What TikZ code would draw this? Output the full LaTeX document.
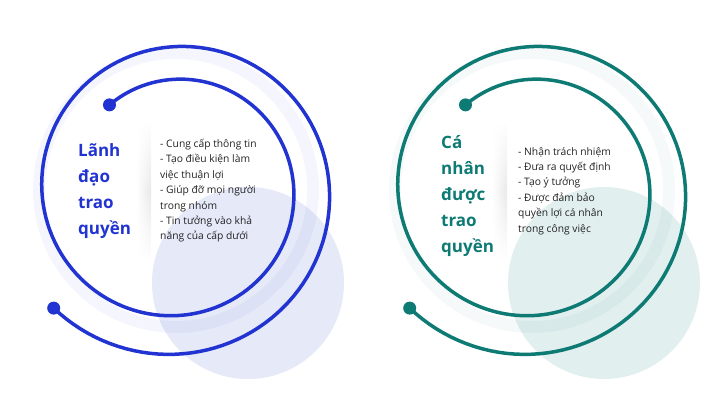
\documentclass[tikz,border=0pt]{standalone}
\usepackage{fontspec}
\setmainfont{Open Sans}
\usepackage{xcolor}
\usepackage{tikz}
\usetikzlibrary{positioning,calc,fadings}
\definecolor{cazul}{HTML}{2133D0}
\definecolor{cazulc}{HTML}{E5E9F8}
\definecolor{cteal}{HTML}{0E7A74}
\definecolor{ctealc}{HTML}{E2EFEF}
\definecolor{ctexto}{HTML}{222222}
\tikzset{
  espiral/.style={line width=3.5pt, line cap=round},
  halo/.style={line width=12pt, opacity=0.045},
  titulo/.style={anchor=north west, inner sep=0pt, align=left,
    font=\fontsize{17}{26}\selectfont\bfseries},
  lista/.style={anchor=north west, inner sep=0pt, align=left, text=ctexto,
    font=\fontsize{10.3}{15.4}\selectfont},
  sombra/.style={top color=white, bottom color=white, middle color=black!9,
    path fading=west},
}
\newcommand{\radio}[1]{(200.97-0.1484*(#1)+0.0000452*(#1)*(#1))}
\begin{document}
\begin{tikzpicture}[x=1pt, y=-1pt]
  \useasboundingbox (0,0) rectangle (720,418);
  % circulos de fondo
  \fill[cazulc] (248,283) circle (96);
  \fill[ctealc] (604,283) circle (96);
  \draw[halo, cazul] (176,190) circle (137);
  \draw[halo, cteal] (532,190) circle (137);
  % separadores
  \shade[sombra] (136,120) rectangle (151,262);
  \shade[sombra] (492,120) rectangle (507,262);
  % espiral izquierda
  \draw[espiral, cazul] plot[domain=224:848, samples=220]
    ({176+\radio{\x}*cos(\x)}, {190-\radio{\x}*sin(\x)});
  \fill[cazul] ({176+\radio{224}*cos(224)}, {190-\radio{224}*sin(224)}) circle (6.5);
  \fill[cazul] ({176+\radio{848}*cos(848)}, {190-\radio{848}*sin(848)}) circle (6.5);
  % espiral derecha
  \draw[espiral, cteal] plot[domain=224:848, samples=220]
    ({532+\radio{\x}*cos(\x)}, {190-\radio{\x}*sin(\x)});
  \fill[cteal] ({532+\radio{224}*cos(224)}, {190-\radio{224}*sin(224)}) circle (6.5);
  \fill[cteal] ({532+\radio{848}*cos(848)}, {190-\radio{848}*sin(848)}) circle (6.5);
  % textos
  \node[titulo, text=cazul] (lider) at (78,143) {Lãnh\\đạo\\trao\\quyền};
  \node[lista] (tareas) at (160,139) {- Cung cấp thông tin\\- Tạo điều kiện làm\\việc thuận lợi\\- Giúp đỡ mọi người\\trong nhóm\\- Tin tưởng vào khả\\năng của cấp dưới};
  \node[titulo, text=cteal] (persona) at (441,135) {Cá\\nhân\\được\\trao\\quyền};
  \node[lista] (deberes) at (518,147) {- Nhận trách nhiệm\\- Đưa ra quyết định\\- Tạo ý tưởng\\- Được đảm bảo\\quyền lợi cá nhân\\trong công việc};
\end{tikzpicture}
\end{document}
